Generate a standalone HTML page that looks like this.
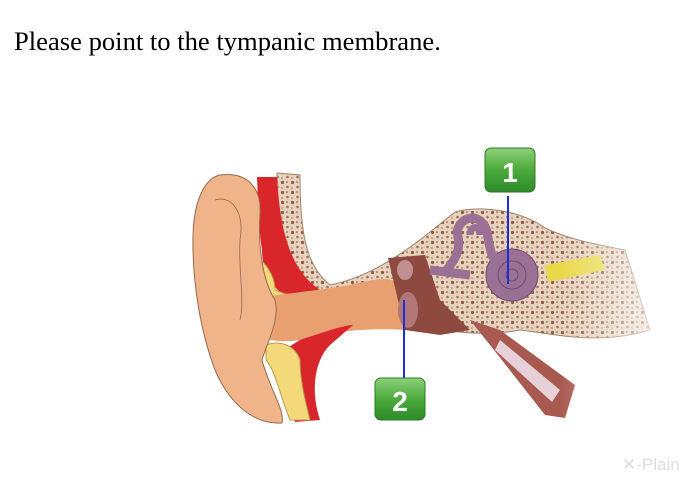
<!DOCTYPE html>
<html><head><style>
body{margin:0;width:700px;height:480px;background:#fff;overflow:hidden;position:relative;font-family:"Liberation Serif",serif}
.t{position:absolute;left:14px;top:26px;font-size:26.6px;color:#000}
</style></head><body>
<div class="t">Please point to the tympanic membrane.</div>
<svg width="700" height="480" style="position:absolute;left:0;top:0">
<defs>
<pattern id="bone" width="10" height="10" patternUnits="userSpaceOnUse">
<rect width="10" height="10" fill="#e6d2bd"/>
<circle cx="2.5" cy="2.5" r="1.6" fill="#8e5a46"/><circle cx="7.5" cy="7" r="1.3" fill="#a0705a"/><circle cx="7" cy="2" r="0.8" fill="#7a4a3a"/><circle cx="2" cy="8" r="0.9" fill="#b08068"/>
</pattern>
<linearGradient id="fade" x1="0" x2="1"><stop offset="0.8" stop-color="#fff" stop-opacity="0"/><stop offset="1" stop-color="#fff"/></linearGradient>
<linearGradient id="g" x1="0" y1="0" x2="0" y2="1"><stop offset="0" stop-color="#8fd07a"/><stop offset="0.5" stop-color="#4caa3c"/><stop offset="1" stop-color="#2f8a2a"/></linearGradient>
</defs>
<!-- bone -->
<path d="M277,173 L300,175 C300,230 305,265 330,285 C380,275 420,240 455,212 C480,205 520,210 545,228 C570,240 600,245 625,250 L650,330 C600,345 560,335 520,330 C470,340 430,325 380,322 C330,322 300,332 280,332 Z" fill="url(#bone)" stroke="#a08470" stroke-width="1"/>
<!-- red tissue upper -->
<path d="M257,177 L277,177 C280,230 290,270 320,290 L300,300 C280,298 262,280 262,250 C258,220 258,200 257,177 Z" fill="#d8262a"/>
<path d="M255,255 C265,262 275,275 275,290 L302,300 L270,300 C258,290 250,275 255,255Z" fill="#f4d97a" stroke="#b89a50"/>
<!-- canal -->
<path d="M230,300 C280,295 320,290 350,285 C370,280 390,275 400,285 L405,330 C370,328 340,330 300,340 C270,345 235,335 230,300Z" fill="#e9a070"/>
<!-- lower tissue -->
<path d="M300,340 C330,330 345,325 353,325 L330,345 C315,360 310,390 320,420 L295,422 C285,395 285,370 268,360 Z" fill="#d8262a"/>
<path d="M266,345 C280,340 295,345 300,360 C300,380 305,400 310,420 L290,420 C280,395 275,370 266,360Z" fill="#f4d97a" stroke="#b89a50"/>
<!-- pinna -->
<path d="M220,175 C245,172 262,185 260,215 C258,245 262,280 275,300 C280,320 268,340 262,360 C270,390 285,410 282,423 C255,425 230,405 215,370 C200,330 192,280 193,235 C194,200 205,178 220,175Z" fill="#f0b48a" stroke="#9a6850"/>
<path d="M215,200 C230,195 245,210 240,240 C238,270 245,300 240,320" fill="none" stroke="#9a6850" stroke-width="0.8"/>
<!-- middle ear -->
<path d="M388,258 L425,255 L440,300 L470,330 L440,335 L405,330 Z" fill="#8e4a3e"/>
<ellipse cx="405" cy="270" rx="8" ry="10" fill="#c09090"/>
<ellipse cx="408" cy="310" rx="10" ry="18" fill="#b07878"/>
<!-- inner ear -->
<circle cx="512" cy="275" r="26" fill="#9a7095" stroke="#6e4e6e"/>
<circle cx="512" cy="275" r="14" fill="none" stroke="#6e4e6e"/>
<circle cx="512" cy="275" r="6" fill="none" stroke="#6e4e6e"/>
<path d="M445,272 C455,260 462,250 457,232 C460,215 482,212 487,232 C490,250 492,262 500,262" fill="none" stroke="#9a7095" stroke-width="9"/>
<path d="M470,235 C470,225 480,225 480,235" fill="none" stroke="#9a7095" stroke-width="7"/>
<path d="M430,270 L470,275" stroke="#9a7095" stroke-width="9"/>
<path d="M545,265 L600,255 L605,270 L548,282Z" fill="#e8d84a"/>
<!-- eustachian tube -->
<path d="M470,320 L500,330 L575,385 L565,418 L545,415 L490,345 Z" fill="#a85a50"/>
<path d="M500,340 L560,390 L552,402 L495,350Z" fill="#e8d0d8"/>
<rect x="0" y="0" width="700" height="480" fill="url(#fade)"/>
<!-- labels -->
<line x1="508" y1="196" x2="508" y2="284" stroke="#1a2fd8" stroke-width="2"/>
<line x1="404" y1="300" x2="404" y2="378" stroke="#1a2fd8" stroke-width="2"/>
<rect x="485" y="148" width="50" height="44" rx="6" fill="url(#g)" stroke="#2d7a26"/>
<text x="510" y="182" font-family="Liberation Sans,sans-serif" font-weight="bold" font-size="28" fill="#fff" text-anchor="middle">1</text>
<rect x="375" y="378" width="50" height="42" rx="6" fill="url(#g)" stroke="#2d7a26"/>
<text x="400" y="411" font-family="Liberation Sans,sans-serif" font-weight="bold" font-size="28" fill="#fff" text-anchor="middle">2</text>
<text x="622" y="470" font-family="Liberation Sans,sans-serif" font-size="17" fill="#ddd">✕-Plain</text>
</svg>
</body></html>
